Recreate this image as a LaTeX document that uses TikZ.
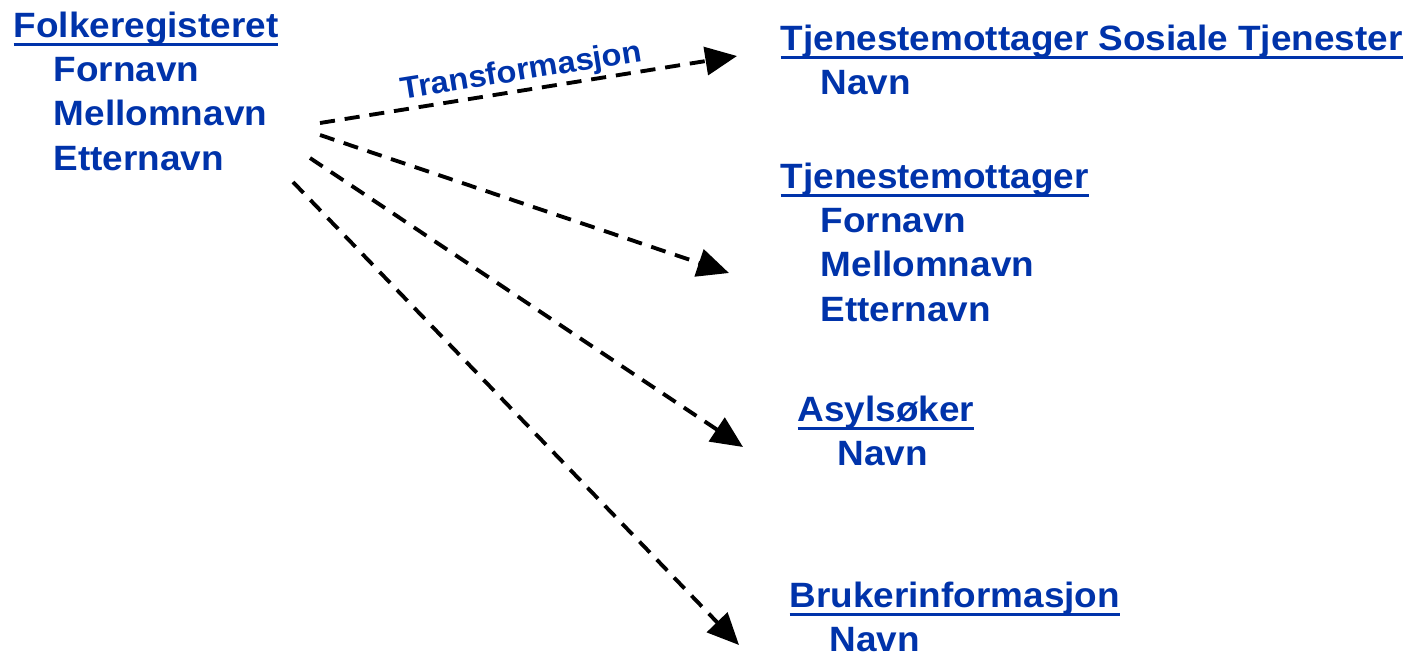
\documentclass[tikz,border=0pt]{standalone}
\usepackage{fontspec}
\setmainfont{Liberation Sans}[FakeStretch=1.05]
\usepackage{tikz}
\usetikzlibrary{arrows.meta}
\definecolor{regblue}{HTML}{0033AA}
% underlined entity title
\newsavebox{\titlebox}
\newcommand{\etitle}[1]{\sbox{\titlebox}{#1}\rlap{\rule[-2.6pt]{\wd\titlebox}{1pt}}\usebox{\titlebox}}
\newcommand{\attr}[1]{\hspace*{0.4cm}#1}

\begin{document}
\begin{tikzpicture}[x=0.01cm,y=-0.01cm,
  entity/.style={anchor=north west, inner sep=0pt, align=left, text=regblue,
    font=\fontsize{10}{12.6}\selectfont\bfseries},
  link/.style={-{Triangle[length=9pt,width=8pt]}, line width=1.1pt,
    dash pattern=on 4.3pt off 2.8pt}]
  \useasboundingbox (0,0) rectangle (1410,657);

  % Nodes
  \node[entity] (folk) at (13,11) {\etitle{Folkeregisteret}\\\attr{Fornavn}\\\attr{Mellomnavn}\\\attr{Etternavn}};
  \node[entity] (sos) at (780,24) {\etitle{Tjenestemottager Sosiale Tjenester}\\\attr{Navn}};
  \node[entity] (tjm) at (780,162) {\etitle{Tjenestemottager}\\\attr{Fornavn}\\\attr{Mellomnavn}\\\attr{Etternavn}};
  \node[entity] (asyl) at (797,395) {\etitle{Asylsøker}\\\attr{Navn}};
  \node[entity] (bruk) at (789,581) {\etitle{Brukerinformasjon}\\\attr{Navn}};

  % arrow ends
  \coordinate (src-sos) at (320,123);
  \coordinate (src-tjm) at (320,135);
  \coordinate (src-asyl) at (310,158);
  \coordinate (src-bruk) at (293,182);
  \coordinate (dst-sos) at (737,56);
  \coordinate (dst-tjm) at (729,273);
  \coordinate (dst-asyl) at (743,447);
  \coordinate (dst-bruk) at (739,645);

  \path
  (src-sos) edge[link] node[sloped, above, pos=0.49, inner sep=0.5pt, text=regblue,
    font=\fontsize{8.8}{10}\selectfont\bfseries] {Transformasjon} (dst-sos)
  (src-tjm) edge[link] (dst-tjm)
  (src-asyl) edge[link] (dst-asyl)
  (src-bruk) edge[link] (dst-bruk);

\end{tikzpicture}
\end{document}
